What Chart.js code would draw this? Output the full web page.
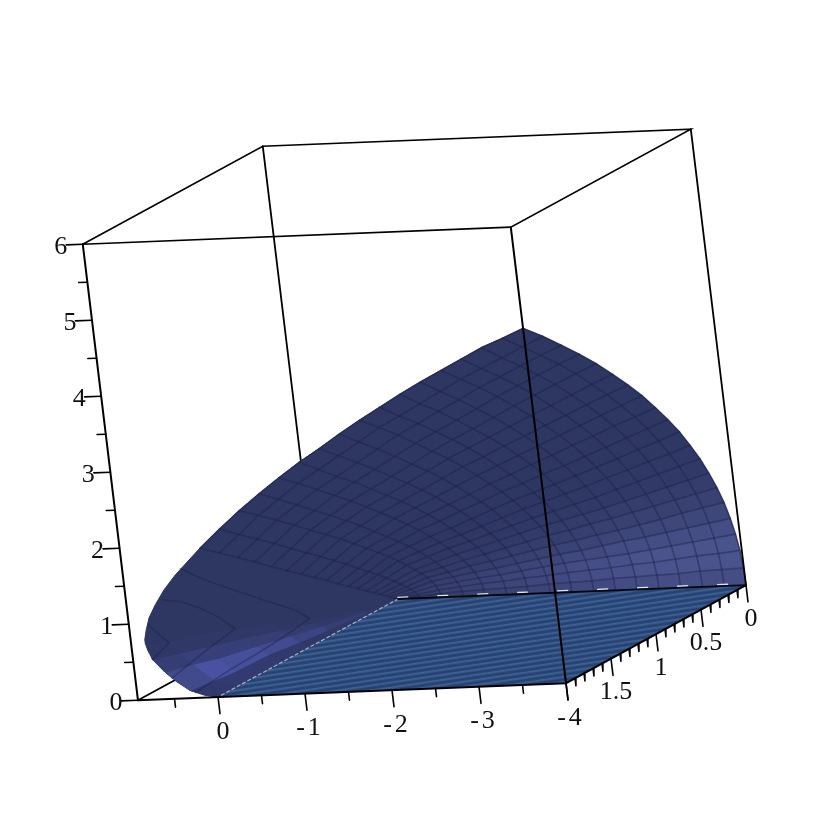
<!DOCTYPE html>
<html>
<head>
<meta charset="utf-8">
<title>Surface</title>
<script src="https://cdn.jsdelivr.net/npm/chart.js@4/dist/chart.umd.min.js"></script>
<style>
  html, body { margin: 0; padding: 0; background: #fff; }
  #wrap { width: 830px; height: 830px; overflow: hidden; }
  #grafico { filter: blur(0.55px); }
</style>
</head>
<body>
<div id="wrap"><canvas id="grafico" width="830" height="830"></canvas></div>
<script>
// box limits
const boxX = [0.92, -4];
const boxY = [0, 2];
const boxZ = [0, 6];

// tick values and labels
const xTicks = [0.5, 0, -0.5, -1, -1.5, -2, -2.5, -3, -3.5, -4];
const xLabelled = [0, -1, -2, -3, -4];
const xLabels = ["0", "-1", "-2", "-3", "-4"];
const yTicks = [0, 0.1, 0.2, 0.3, 0.4, 0.5, 0.6, 0.7, 0.8, 0.9, 1, 1.1, 1.2, 1.3, 1.4, 1.5, 1.6, 1.7, 1.8, 1.9, 2];
const yLabelled = [0, 0.5, 1, 1.5];
const yLabels = ["0", "0.5", "1", "1.5"];
const zTicks = [0, 0.5, 1, 1.5, 2, 2.5, 3, 3.5, 4, 4.5, 5, 5.5, 6];
const zLabelled = [0, 1, 2, 3, 4, 5, 6];
const zLabels = ["0", "1", "2", "3", "4", "5", "6"];

// surface mesh: one z list per x line, one entry per y line
const rowY = [0, 0.005, 0.02, 0.045, 0.08, 0.125, 0.18, 0.245, 0.32, 0.405, 0.5, 0.605, 0.72, 0.845, 0.98, 1.125, 1.28, 1.445, 1.62, 1.805, 2];
const columnX = [-4, -3.75, -3.5, -3.25, -3, -2.75, -2.5, -2.25, -2, -1.75, -1.5, -1.25, -1, -0.75, -0.5, -0.25, 0];
const surfaceZ = [
  [0, .23, .47, .70, .93, 1.17, 1.40, 1.63, 1.87, 2.10, 2.34, 2.57, 2.80, 3.04, 3.27, 3.50, 3.74, 3.97, 4.20, 4.44, 4.67],
  [0, .22, .44, .66, .88, 1.11, 1.33, 1.55, 1.78, 2.00, 2.23, 2.46, 2.69, 2.92, 3.15, 3.38, 3.62, 3.85, 4.08, 4.31, 4.55],
  [0, .21, .42, .62, .83, 1.05, 1.26, 1.47, 1.69, 1.91, 2.13, 2.35, 2.58, 2.80, 3.03, 3.25, 3.49, 3.72, 3.95, 4.18, 4.44],
  [0, .19, .39, .58, .78, .98, 1.19, 1.39, 1.60, 1.81, 2.02, 2.24, 2.46, 2.68, 2.90, 3.12, 3.36, 3.59, 3.82, 4.05, 4.30],
  [0, .18, .36, .54, .73, .92, 1.12, 1.31, 1.51, 1.72, 1.92, 2.13, 2.35, 2.56, 2.78, 3.00, 3.23, 3.46, 3.69, 3.92, 4.16],
  [0, .17, .34, .50, .69, .86, 1.05, 1.23, 1.42, 1.62, 1.82, 2.02, 2.23, 2.44, 2.65, 2.87, 3.09, 3.31, 3.54, 3.77, 4.02],
  [0, .16, .31, .47, .64, .81, .99, 1.16, 1.34, 1.53, 1.72, 1.92, 2.12, 2.32, 2.53, 2.74, 2.95, 3.17, 3.40, 3.62, 3.87],
  [0, .14, .29, .44, .59, .75, .92, 1.09, 1.26, 1.44, 1.62, 1.81, 2.00, 2.20, 2.40, 2.61, 2.82, 3.03, 3.25, 3.47, 3.71],
  [0, .13, .27, .41, .55, .70, .86, 1.02, 1.18, 1.35, 1.53, 1.71, 1.89, 2.08, 2.28, 2.48, 2.68, 2.89, 3.11, 3.33, 3.55],
  [0, .12, .24, .37, .50, .64, .79, .94, 1.09, 1.25, 1.42, 1.59, 1.76, 1.95, 2.14, 2.33, 2.52, 2.73, 2.94, 3.15, 3.38],
  [0, .10, .22, .33, .45, .58, .72, .86, 1.00, 1.15, 1.31, 1.48, 1.64, 1.82, 2.00, 2.18, 2.37, 2.57, 2.77, 2.98, 3.20],
  [0, .09, .19, .29, .40, .52, .65, .78, .91, 1.05, 1.20, 1.36, 1.52, 1.69, 1.86, 2.03, 2.22, 2.41, 2.60, 2.81, 3.03],
  [0, .08, .17, .26, .36, .47, .58, .70, .83, .96, 1.10, 1.25, 1.40, 1.56, 1.72, 1.89, 2.07, 2.25, 2.44, 2.64, 2.84],
  [0, .07, .14, .22, .31, .40, .50, .61, .73, .85, .98, 1.11, 1.25, 1.40, 1.56, 1.72, 1.89, 2.06, 2.25, 2.44, 2.64],
  [0, .05, .11, .18, .26, .34, .43, .52, .63, .74, .86, .98, 1.11, 1.25, 1.40, 1.55, 1.71, 1.88, 2.06, 2.24, 2.43],
  [0, .03, .06, .11, .17, .23, .30, .38, .47, .57, .67, .78, .91, 1.04, 1.18, 1.32, 1.48, 1.65, 1.82, 2.00, 2.20],
  [0, .005, .02, .04, .08, .12, .18, .24, .31, .40, .49, .59, .71, .83, .96, 1.10, 1.25, 1.42, 1.59, 1.77, 1.96]
];

// outline of the fold at y = 2, beyond x = 0
const foldEdgeX = [0.32, 0.47, 0.59, 0.68, 0.73, 0.76, 0.74, 0.68, 0.57, 0.45, 0.31, 0.15, 0];
const foldEdgeZ = [1.62, 1.43, 1.24, 1.07, 0.91, 0.78, 0.65, 0.50, 0.35, 0.22, 0.10, 0.03, 0];

// x lines that turn back inside the fold
const foldLine25Y = [2, 1.805, 1.62, 1.445, 1.28, 1.125, 0.98, 0.845, 0.72, 0.98, 1.28, 1.62, 2];
const foldLine25Z = [1.7, 1.45, 1.24, 1.05, 0.87, 0.7, 0.55, 0.4, 0.22, 0.17, 0.14, 0.12, 0.07];
const foldLine50Y = [2, 1.805, 1.62, 1.445, 1.28, 1.445, 1.62, 1.805, 2];
const foldLine50Z = [1.3, 1.15, 0.95, 0.72, 0.46, 0.42, 0.38, 0.33, 0.27];
const foldLine70Y = [2, 1.805, 2];
const foldLine70Z = [0.98, 0.62, 0.52];

// strips of the lit underside between the floor edge and the fold ridge
const stripY = [0, 0.3, 0.72, 1, 1.3, 1.6, 1.8, 2];
const stripX = [
  [0, 0, 0, 0, 0, 0, 0, 0],
  [0, .03, .06, .09, .125, .2, .24, .31],
  [0, .06, .125, .185, .25, .38, .47, .57],
  [0, .09, .19, .28, .375, .52, .62, .70],
  [0, .12, .25, .37, .5, .62, .70, .76]
];
const stripZ = [
  [0, 0, 0, 0, 0, 0, 0, 0],
  [0, .02, .055, .08, .115, .09, .10, .10],
  [0, .035, .11, .165, .23, .27, .32, .35],
  [0, .05, .165, .25, .345, .42, .47, .53],
  [0, .07, .22, .33, .46, .58, .62, .75]
];

// picture position of the data origin and of one unit along each axis
const origem = [398, 599];
const passoX = [-87, 3.46];
const passoY = [-90, 49];
const passoZ = [-9.2, -76];

function ponto(x, y, z) {
  return {
    x: origem[0] + x * passoX[0] + y * passoY[0] + z * passoZ[0],
    y: origem[1] + x * passoX[1] + y * passoY[1] + z * passoZ[1]
  };
}

function linha(pontos, cor, largura, tracejado) {
  return {
    data: pontos, showLine: true, fill: false, pointRadius: 0,
    borderColor: cor, borderWidth: largura, borderDash: tracejado || [], borderCapStyle: "round"
  };
}

function area(pontos, cor, borda) {
  return {
    data: pontos, showLine: true, fill: "shape", pointRadius: 0,
    backgroundColor: cor, borderColor: borda === undefined ? cor : borda, borderWidth: borda === null ? 0 : 1
  };
}

function mistura(a, b, t) {
  return "rgb(" + a.map((v, i) => Math.round(v + (b[i] - v) * t)).join(",") + ")";
}

function padraoChao() {
  const tile = document.createElement("canvas");
  tile.width = 2;
  tile.height = 5;
  const c = tile.getContext("2d");
  ["#28406f", "#2c4878", "#3c6396", "#355a8c", "#2a4474"].forEach((cor, i) => {
    c.fillStyle = cor;
    c.fillRect(0, i, 2, 1);
  });
  const p = c.createPattern(tile, "repeat");
  p.setTransform(new DOMMatrix().rotate(-8.5));
  return p;
}

const COR_BASE = [46, 54, 98];
const COR_CLARA = [74, 84, 142];
const PRETO = "#000";
const brilhoLinha = [0.8, 0.95, 0.95, 0.8, 0.55, 0.35, 0.22, 0.12, 0.06, 0.02];
const coresFaixa = [[50, 58, 112], [72, 82, 160], [56, 64, 122], [48, 56, 104]];
const forcaFaixa = [0.1, 0.3, 0.55, 0.75, 0.9, 1, 0.7];

const camadas = [];
const zMax = boxZ[1], xMax = boxX[0], xMin = boxX[1], yMax = boxY[1];

// edges behind the surface
camadas.push(linha([ponto(xMax, yMax, zMax), ponto(xMin, yMax, zMax), ponto(xMin, 0, zMax), ponto(xMax, 0, zMax), ponto(xMax, yMax, zMax)], PRETO, 1.6));
camadas.push(linha([ponto(xMax, 0, 0), ponto(xMax, 0, zMax)], PRETO, 1.8));
camadas.push(linha([ponto(xMax, yMax, 0), ponto(xMax, 0, 0), ponto(0, 0, 0)], PRETO, 1.8));

// silhouette of the whole surface
const contorno = [];
rowY.forEach((y, r) => contorno.push(ponto(xMin, y, surfaceZ[0][r])));
columnX.forEach((x, c) => contorno.push(ponto(x, yMax, surfaceZ[c][20])));
foldEdgeX.forEach((x, i) => contorno.push(ponto(x, yMax, foldEdgeZ[i])));
contorno.push(ponto(0, 0, 0));
camadas.push(area(contorno, mistura(COR_BASE, COR_BASE, 0)));

// mesh cells
for (let c = 0; c < columnX.length - 1; c++) {
  const forcaColuna = 0.12 + 0.88 * Math.min(1, (-columnX[c]) / 3);
  for (let r = 0; r < rowY.length - 1; r++) {
    const brilho = (brilhoLinha[r] || 0) * forcaColuna;
    const cor = mistura(COR_BASE, COR_CLARA, brilho);
    camadas.push(area([
      ponto(columnX[c], rowY[r], surfaceZ[c][r]),
      ponto(columnX[c + 1], rowY[r], surfaceZ[c + 1][r]),
      ponto(columnX[c + 1], rowY[r + 1], surfaceZ[c + 1][r + 1]),
      ponto(columnX[c], rowY[r + 1], surfaceZ[c][r + 1])
    ], cor));
  }
}

// lit strips next to the floor edge
for (let s = 0; s < stripX.length - 1; s++) {
  for (let k = 0; k < stripY.length - 1; k++) {
    const cor = mistura(COR_BASE, coresFaixa[s], forcaFaixa[k]);
    camadas.push(area([
      ponto(stripX[s][k], stripY[k], stripZ[s][k]),
      ponto(stripX[s][k + 1], stripY[k + 1], stripZ[s][k + 1]),
      ponto(stripX[s + 1][k + 1], stripY[k + 1], stripZ[s + 1][k + 1]),
      ponto(stripX[s + 1][k], stripY[k], stripZ[s + 1][k])
    ], cor));
  }
}

// mesh lines
const COR_MALHA = "rgba(30,34,72,0.42)";
columnX.forEach((x, c) => {
  camadas.push(linha(rowY.map((y, r) => ponto(x, y, surfaceZ[c][r])), COR_MALHA, 1.7));
});
rowY.forEach((y, r) => {
  if (r === 0) return;
  camadas.push(linha(columnX.map((x, c) => ponto(x, y, surfaceZ[c][r])), COR_MALHA, 1.7));
});
camadas.push(linha(foldLine25Y.map((y, i) => ponto(0.25, y, foldLine25Z[i])), COR_MALHA, 1.7));
camadas.push(linha(foldLine50Y.map((y, i) => ponto(0.5, y, foldLine50Z[i])), COR_MALHA, 1.7));
camadas.push(linha(foldLine70Y.map((y, i) => ponto(0.7, y, foldLine70Z[i])), COR_MALHA, 1.7));

// floor
camadas.push(area([ponto(0, 0, 0), ponto(xMin, 0, 0), ponto(xMin, yMax, 0), ponto(0, yMax, 0)], padraoChao(), null));
camadas.push(linha([ponto(0, 0, 0), ponto(0, yMax, 0)], "#a8b0c4", 1.2, [3, 3]));
camadas.push(linha([ponto(0, 0, 0.022), ponto(xMin, 0, 0.022)], "#dfe2e8", 1.4, [10, 30]));

// edges in front of the surface
camadas.push(linha([ponto(0, 0, 0), ponto(xMin, 0, 0)], "#05070f", 1.8));
camadas.push(linha([ponto(xMin, 0, 0), ponto(xMin, 0, zMax)], PRETO, 1.8));
camadas.push(linha([ponto(xMin, yMax, 0), ponto(xMin, yMax, zMax)], PRETO, 2));
camadas.push(linha([ponto(xMax, yMax, 0), ponto(xMin, yMax, 0), ponto(xMin, 0, 0)], PRETO, 2));
camadas.push(linha([ponto(xMax, yMax, 0), ponto(xMax, yMax, zMax)], PRETO, 2));

// ticks
xTicks.forEach(v => {
  const longo = xLabelled.includes(v);
  camadas.push(linha([ponto(v, yMax, 0), ponto(v, yMax, longo ? -0.22 : -0.11)], PRETO, 1.6));
});
yTicks.forEach(v => {
  const longo = yLabelled.includes(v) || v === yMax;
  camadas.push(linha([ponto(xMin, v, 0), ponto(xMin, v, longo ? -0.22 : -0.1)], PRETO, 1.6));
});
zTicks.forEach(v => {
  const base = ponto(xMax, yMax, v);
  const longo = zLabelled.includes(v);
  // ticks leave the axis along the x direction of the box
  camadas.push(linha([base, ponto(xMax + (longo ? 0.19 : 0.1), yMax, v)], PRETO, 1.6));
});

// Chart.js paints the first dataset last
camadas.reverse();

const rotulos = {
  id: "rotulos",
  afterDraw(chart) {
    const { ctx, scales } = chart;
    const escrever = (txt, p, dx, dy) => {
      ctx.letterSpacing = txt.startsWith("-") ? "3px" : "0px";
      ctx.fillText(txt, scales.x.getPixelForValue(p.x) + dx, scales.y.getPixelForValue(p.y) + dy);
    };
    ctx.save();
    ctx.font = '26px "Liberation Serif"';
    ctx.fillStyle = "#111";
    ctx.textAlign = "center";
    ctx.textBaseline = "middle";
    xLabelled.forEach((v, i) => escrever(xLabels[i], ponto(v, yMax, 0), 5, 35));
    yLabelled.forEach((v, i) => escrever(yLabels[i], ponto(xMin, v, 0), 5, 34));
    zLabelled.forEach((v, i) => escrever(zLabels[i], ponto(xMax, yMax, v), -22, 3));
    ctx.restore();
  }
};

new Chart(document.getElementById("grafico"), {
  type: "scatter",
  data: { datasets: camadas },
  options: {
    responsive: false,
    animation: false,
    events: [],
    layout: { padding: 0 },
    elements: { line: { tension: 0 } },
    scales: {
      x: { type: "linear", min: 0, max: 830, display: false },
      y: { type: "linear", min: 0, max: 830, reverse: true, display: false }
    },
    plugins: { legend: { display: false }, tooltip: { enabled: false } }
  },
  plugins: [rotulos]
});
</script>
</body>
</html>
